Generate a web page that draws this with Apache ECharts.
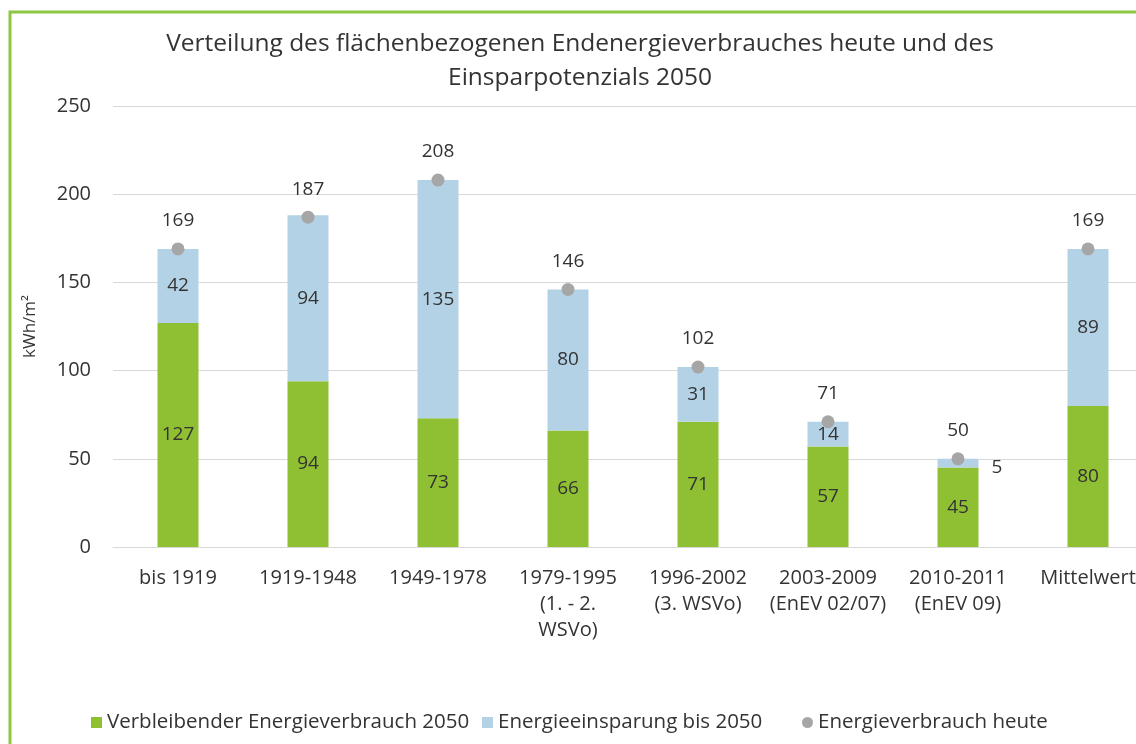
<!doctype html>
<html>
<head>
<meta charset="utf-8">
<title>Endenergieverbrauch</title>
<script src="https://cdn.jsdelivr.net/npm/echarts@6/dist/echarts.min.js"></script>
<style>
html,body{margin:0;padding:0;background:#fff;overflow:hidden;}
#main{width:1170px;height:744px;}
</style>
</head>
<body>
<div id="main"></div>
<script>
// Baualtersklassen
var categories = ['bis 1919', '1919-1948', '1949-1978', '1979-1995\n(1. - 2.\nWSVo)', '1996-2002\n(3. WSVo)', '2003-2009\n(EnEV 02/07)', '2010-2011\n(EnEV 09)', 'Mittelwert'];
var remaining = [127, 94, 73, 66, 71, 57, 45, 80];   // Verbleibender Energieverbrauch 2050
var savings = [42, 94, 135, 80, 31, 14, 5, 89];      // Energieeinsparung bis 2050
var today = [169, 187, 208, 146, 102, 71, 50, 169];  // Energieverbrauch heute
var yTicks = [0, 50, 100, 150, 200, 250];

var green = '#8fbf33';
var blue = '#b4d2e6';
var grey = '#a6a6a6';
var txt = '#333333';
var font = '"Open Sans", "Noto Sans", sans-serif';

var chart = echarts.init(document.getElementById('main'));

// kleine Werte passen nicht in den Balken -> rechts daneben
var savingsData = savings.map(function (v) {
    if (v < 10) {
        return {value: v, label: {position: 'right', distance: 13, offset: [0, 4]}};
    }
    return v;
});

var legendText = {fontFamily: font, fontSize: 20.5, color: txt};

chart.setOption({
    backgroundColor: '#fff',
    textStyle: {fontFamily: font},
    title: {
        text: 'Verteilung des flächenbezogenen Endenergieverbrauches heute und des\nEinsparpotenzials 2050',
        left: 575,
        top: 22,
        textAlign: 'center',
        textStyle: {fontFamily: font, fontSize: 24.5, fontWeight: 'normal', color: txt, lineHeight: 34}
    },
    graphic: [{
        type: 'polyline',
        shape: {points: [[10, 744], [10, 12], [1170, 12]]},
        style: {stroke: '#8dc63f', lineWidth: 3, fill: null}
    }],
    legend: [
        {left: 86, top: 707, itemWidth: 11, itemHeight: 11, textStyle: legendText,
         data: [{name: 'Verbleibender Energieverbrauch 2050', icon: 'rect'}]},
        {left: 477, top: 707, itemWidth: 11, itemHeight: 11, textStyle: legendText,
         data: [{name: 'Energieeinsparung bis 2050', icon: 'rect'}]},
        {left: 797, top: 707, itemWidth: 11, itemHeight: 11, textStyle: legendText,
         data: [{name: 'Energieverbrauch heute', icon: 'circle'}]}
    ],
    grid: {left: 113, top: 106, width: 1040, height: 441},
    xAxis: {
        type: 'category',
        data: categories,
        axisLine: {lineStyle: {color: '#d9d9d9', width: 1}},
        axisTick: {show: false},
        axisLabel: {color: txt, fontSize: 20, lineHeight: 26, margin: 18, interval: 0}
    },
    yAxis: {
        type: 'value',
        min: yTicks[0],
        max: yTicks[yTicks.length - 1],
        interval: 50,
        name: 'kWh/m²',
        nameLocation: 'middle',
        nameGap: 74,
        nameTextStyle: {color: txt, fontSize: 17},
        axisLine: {show: false},
        axisTick: {show: false},
        axisLabel: {color: txt, fontSize: 20, margin: 22},
        splitLine: {lineStyle: {color: '#d9d9d9', width: 1}}
    },
    series: [
        {
            name: 'Verbleibender Energieverbrauch 2050',
            type: 'bar',
            stack: 'e',
            barWidth: 41,
            itemStyle: {color: green},
            label: {show: true, position: 'inside', color: txt, fontSize: 19},
            data: remaining
        },
        {
            name: 'Energieeinsparung bis 2050',
            type: 'bar',
            stack: 'e',
            barWidth: 41,
            itemStyle: {color: blue},
            label: {show: true, position: 'inside', color: txt, fontSize: 19},
            data: savingsData
        },
        {
            name: 'Energieverbrauch heute',
            type: 'scatter',
            symbol: 'circle',
            symbolSize: 13,
            itemStyle: {color: grey, opacity: 1},
            label: {show: true, position: 'top', distance: 12, color: txt, fontSize: 19},
            z: 5,
            data: today
        }
    ]
});
</script>
</body>
</html>
